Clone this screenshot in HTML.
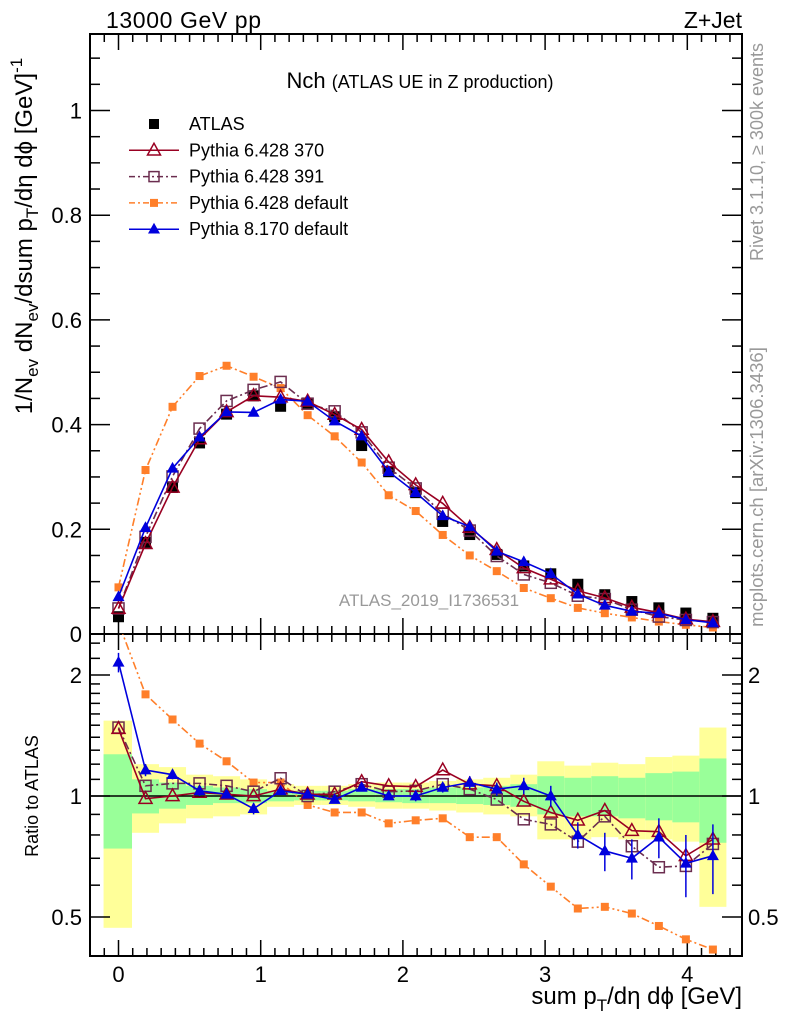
<!DOCTYPE html>
<html><head><meta charset="utf-8">
<style>
html,body{margin:0;padding:0;background:#fff;}
svg{display:block;font-family:"Liberation Sans",sans-serif;}
</style></head>
<body>
<svg id="chart" width="786" height="1024" viewBox="0 0 786 1024" xmlns="http://www.w3.org/2000/svg">
<defs>
<clipPath id="clipMain"><rect x="90" y="34" width="652" height="600"/></clipPath>
<clipPath id="clipRatio"><rect x="90" y="634" width="652" height="322"/></clipPath>
</defs>
<g id="bands" clip-path="url(#clipRatio)"></g>
<g id="axes"></g>
<g id="mainMarks" clip-path="url(#clipMain)"></g>
<g id="ratioMarks" clip-path="url(#clipRatio)"></g>
<text x="106" y="28" font-size="23" textLength="155">13000 GeV pp</text>
<text x="742" y="28" font-size="23" text-anchor="end">Z+Jet</text>
<text x="420" y="88" font-size="22" text-anchor="middle">Nch <tspan font-size="18">(ATLAS UE in Z production)</tspan></text>
<text x="429" y="606" font-size="17" fill="#999" text-anchor="middle">ATLAS_2019_I1736531</text>
<text transform="translate(763,152) rotate(-90)" font-size="18" fill="#999" text-anchor="middle">Rivet 3.1.10, ≥ 300k events</text>
<text transform="translate(763,487) rotate(-90)" font-size="18.5" fill="#999" text-anchor="middle">mcplots.cern.ch [arXiv:1306.3436]</text>
<text transform="translate(32,236) rotate(-90)" font-size="24" text-anchor="middle">1/N<tspan font-size="17" dy="6">ev</tspan><tspan dy="-6"> dN</tspan><tspan font-size="17" dy="6">ev</tspan><tspan dy="-6">/dsum p</tspan><tspan font-size="17" dy="6">T</tspan><tspan dy="-6">/dη dϕ  [GeV]</tspan><tspan font-size="17" dy="-10">-1</tspan></text>
<text transform="translate(38,796) rotate(-90)" font-size="18" text-anchor="middle">Ratio to ATLAS</text>
<text x="742" y="1004" font-size="24" text-anchor="end">sum p<tspan font-size="17" dy="7">T</tspan><tspan dy="-7">/dη dϕ [GeV]</tspan></text>
<g id="legend"></g>
</svg>
<script>
const xs = [0,0.19,0.38,0.57,0.76,0.95,1.14,1.33,1.52,1.71,1.9,2.09,2.28,2.47,2.66,2.85,3.04,3.23,3.42,3.61,3.80,3.99,4.18];
const atlas = [0.033,0.175,0.28,0.365,0.42,0.455,0.435,0.44,0.415,0.36,0.31,0.27,0.215,0.19,0.152,0.13,0.115,0.095,0.075,0.062,0.05,0.04,0.03];
const r370 = [1.47,0.985,1.0,1.02,1.01,1.0,1.04,1.01,1.01,1.085,1.06,1.055,1.16,1.07,1.06,0.97,0.91,0.87,0.92,0.82,0.815,0.71,0.78];
const r391 = [1.48,1.06,1.075,1.075,1.06,1.025,1.107,1.0,1.025,1.07,1.025,1.03,1.07,1.04,0.98,0.875,0.85,0.77,0.89,0.75,0.665,0.67,0.76];
const rDef = [2.7,1.79,1.55,1.35,1.22,1.08,1.08,0.95,0.91,0.91,0.855,0.87,0.88,0.79,0.79,0.676,0.595,0.525,0.53,0.51,0.475,0.44,0.415];
const rP8 = [2.15,1.16,1.13,1.03,1.01,0.93,1.03,1.01,0.98,1.05,1.0,1.0,1.05,1.08,1.04,1.06,1.0,0.80,0.73,0.70,0.79,0.68,0.71];
const errP8 = [0.12,0.04,0.03,0.03,0.02,0.03,0.02,0.02,0.02,0.02,0.02,0.03,0.03,0.04,0.04,0.05,0.06,0.06,0.08,0.08,0.09,0.12,0.14];
const yelHi = [1.54,1.20,1.18,1.13,1.12,1.10,1.07,1.06,1.06,1.07,1.08,1.08,1.09,1.10,1.11,1.13,1.22,1.19,1.21,1.20,1.25,1.26,1.48];
const yelLo = [0.47,0.81,0.855,0.88,0.89,0.90,0.94,0.95,0.95,0.94,0.93,0.93,0.92,0.91,0.90,0.89,0.78,0.78,0.79,0.78,0.78,0.77,0.53];
const grnHi = [1.27,1.10,1.08,1.06,1.05,1.04,1.03,1.03,1.03,1.04,1.04,1.04,1.05,1.05,1.06,1.07,1.12,1.11,1.12,1.11,1.14,1.15,1.24];
const grnLo = [0.74,0.905,0.93,0.95,0.96,0.96,0.97,0.975,0.975,0.97,0.965,0.96,0.96,0.955,0.95,0.94,0.90,0.89,0.89,0.88,0.87,0.86,0.765];
const xTicks = [0,1,2,3,4];
const yTicks = [0,0.2,0.4,0.6,0.8,1];
const rTicks = [0.5,1,2];

const NS="http://www.w3.org/2000/svg";
const L=90,R=742,T=34,B=634,RB=956;
const X=v=>118.5+v*142.2;
const Y=v=>634-v*523.5;
const RY=v=>796-Math.log10(v)*402;
function mk(tag,attrs,parent){const e=document.createElementNS(NS,tag);for(const k in attrs)e.setAttribute(k,attrs[k]);parent.appendChild(e);return e;}
const ax=document.getElementById('axes');
const bands=document.getElementById('bands');
const mm=document.getElementById('mainMarks');
const rm=document.getElementById('ratioMarks');
const lg=document.getElementById('legend');

xs.forEach((x,i)=>{
  const x0=X(i===0?-0.105:x-0.095), x1=X(x+0.095);
  let e=mk('rect',{x:x0,y:RY(yelHi[i]),width:x1-x0,height:RY(yelLo[i])-RY(yelHi[i]),fill:'#ffff99'},bands);
  
  
  e=mk('rect',{x:x0,y:RY(grnHi[i]),width:x1-x0,height:RY(grnLo[i])-RY(grnHi[i]),fill:'#99ff99'},bands);
  
  
});

let f=mk('rect',{x:L,y:T,width:R-L,height:B-T,fill:'none',stroke:'#000','stroke-width':2},ax);


f=mk('rect',{x:L,y:B,width:R-L,height:RB-B,fill:'none',stroke:'#000','stroke-width':2},ax);


let ln=mk('line',{x1:L,x2:R,y1:RY(1),y2:RY(1),stroke:'#000','stroke-width':1.5},ax);



for(let k=-1;k<=43;k++){
  const v=k/10, px=X(v); if(px<L+1||px>R-1) continue;
  const major=k%10===0, len=major?16:8;
  [[T,T+len],[B,B-len],[B,B+len],[RB,RB-len]].forEach(p=>mk('line',{x1:px,x2:px,y1:p[0],y2:p[1],stroke:'#000','stroke-width':1.5},ax));
}
xTicks.forEach(v=>{const t=mk('text',{x:X(v),y:982,'font-size':22,'text-anchor':'middle'},ax);t.textContent=v;
  
  });
for(let k=0;k<=22;k++){
  const v=k*0.05, py=Y(v); const major=k%4===0, len=major?20:10;
  mk('line',{x1:L,x2:L+len,y1:py,y2:py,stroke:'#000','stroke-width':1.5},ax);
  mk('line',{x1:R,x2:R-len,y1:py,y2:py,stroke:'#000','stroke-width':1.5},ax);
}
yTicks.forEach(v=>{const t=mk('text',{x:82,y:Y(v)+8,'font-size':22,'text-anchor':'end'},ax);t.textContent=v;
  
  });
const rmin=[0.5,0.6,0.7,0.8,0.9,1,1.1,1.2,1.3,1.4,1.5,1.6,1.7,1.8,1.9,2,2.2,2.4];
rmin.forEach(v=>{const py=RY(v);const major=rTicks.includes(v);const len=major?20:10;
  mk('line',{x1:L,x2:L+len,y1:py,y2:py,stroke:'#000','stroke-width':1.5},ax);
  mk('line',{x1:R,x2:R-len,y1:py,y2:py,stroke:'#000','stroke-width':1.5},ax);});
rTicks.forEach(v=>{let t=mk('text',{x:82,y:RY(v)+8,'font-size':22,'text-anchor':'end'},ax);t.textContent=v;
  
  
  t=mk('text',{x:748,y:RY(v)+8,'font-size':22},ax);t.textContent=v;
  
  });

function marker(type,px,py,col,parent,s){
  if(type==='sq') return mk('rect',{x:px-s/2,y:py-s/2,width:s,height:s,fill:col},parent);
  if(type==='osq') return mk('rect',{x:px-s/2,y:py-s/2,width:s,height:s,fill:'none',stroke:col,'stroke-width':1.5},parent);
  const h=s*0.9;
  const pts=`${px},${py-h*0.6} ${px-s/2},${py+h*0.4} ${px+s/2},${py+h*0.4}`;
  if(type==='tri') return mk('polygon',{points:pts,fill:col},parent);
  return mk('polygon',{points:pts,fill:'none',stroke:col,'stroke-width':1.5},parent);
}
const series=[
  {name:'pythia6-default',r:rDef,col:'#ff7f2a',dash:'8,3,2,3,2,3',m:'sq',s:8},
  {name:'pythia6-391',r:r391,col:'#6b2d4f',dash:'8,3,2,3',m:'osq',s:11},
  {name:'pythia6-370',r:r370,col:'#990022',dash:'',m:'otri',s:13},
  {name:'pythia8-default',r:rP8,col:'#0000dd',dash:'',m:'tri',s:12}
];
xs.forEach((x,i)=>{const e=marker('sq',X(x),Y(atlas[i]),'#000',mm,11);
  
  });
series.forEach(s=>{
  const mainPts=xs.map((x,i)=>X(x)+','+Y(atlas[i]*s.r[i])).join(' ');
  const ratPts=xs.map((x,i)=>X(x)+','+RY(s.r[i])).join(' ');
  let p=mk('polyline',{points:mainPts,fill:'none',stroke:s.col,'stroke-width':1.6,'stroke-dasharray':s.dash},mm);
  
  
  p=mk('polyline',{points:ratPts,fill:'none',stroke:s.col,'stroke-width':1.6,'stroke-dasharray':s.dash},rm);
  
  
  xs.forEach((x,i)=>{
    let e=marker(s.m,X(x),Y(atlas[i]*s.r[i]),s.col,mm,s.s);
    
    
    if(s.name==='pythia8-default'){
      const b=mk('line',{x1:X(x),x2:X(x),y1:RY(s.r[i]+errP8[i]),y2:RY(s.r[i]-errP8[i]),stroke:s.col,'stroke-width':1.5},rm);
      
      
    }
    e=marker(s.m,X(x),RY(s.r[i]),s.col,rm,s.s);
    
    
  });
});

const leg=[
  {t:'ATLAS',col:'#000',m:'sq',dash:null,s:10},
  {t:'Pythia 6.428 370',col:'#990022',m:'otri',dash:'',s:13},
  {t:'Pythia 6.428 391',col:'#6b2d4f',m:'osq',dash:'6,3,2,3',s:10},
  {t:'Pythia 6.428 default',col:'#ff7f2a',m:'sq',dash:'6,3,2,3',s:8},
  {t:'Pythia 8.170 default',col:'#0000dd',m:'tri',dash:'',s:12}
];
leg.forEach((e,i)=>{
  const y=124+i*26.3;
  const g=mk('g',{},lg);
  
  
  if(e.dash!==null) mk('line',{x1:129,x2:179,y1:y,y2:y,stroke:e.col,'stroke-width':1.5,'stroke-dasharray':e.dash},g);
  marker(e.m,154,y,e.col,g,e.s);
  const t=mk('text',{x:189,y:y+6,'font-size':18},g);t.textContent=e.t;
});
</script>
</body></html>
